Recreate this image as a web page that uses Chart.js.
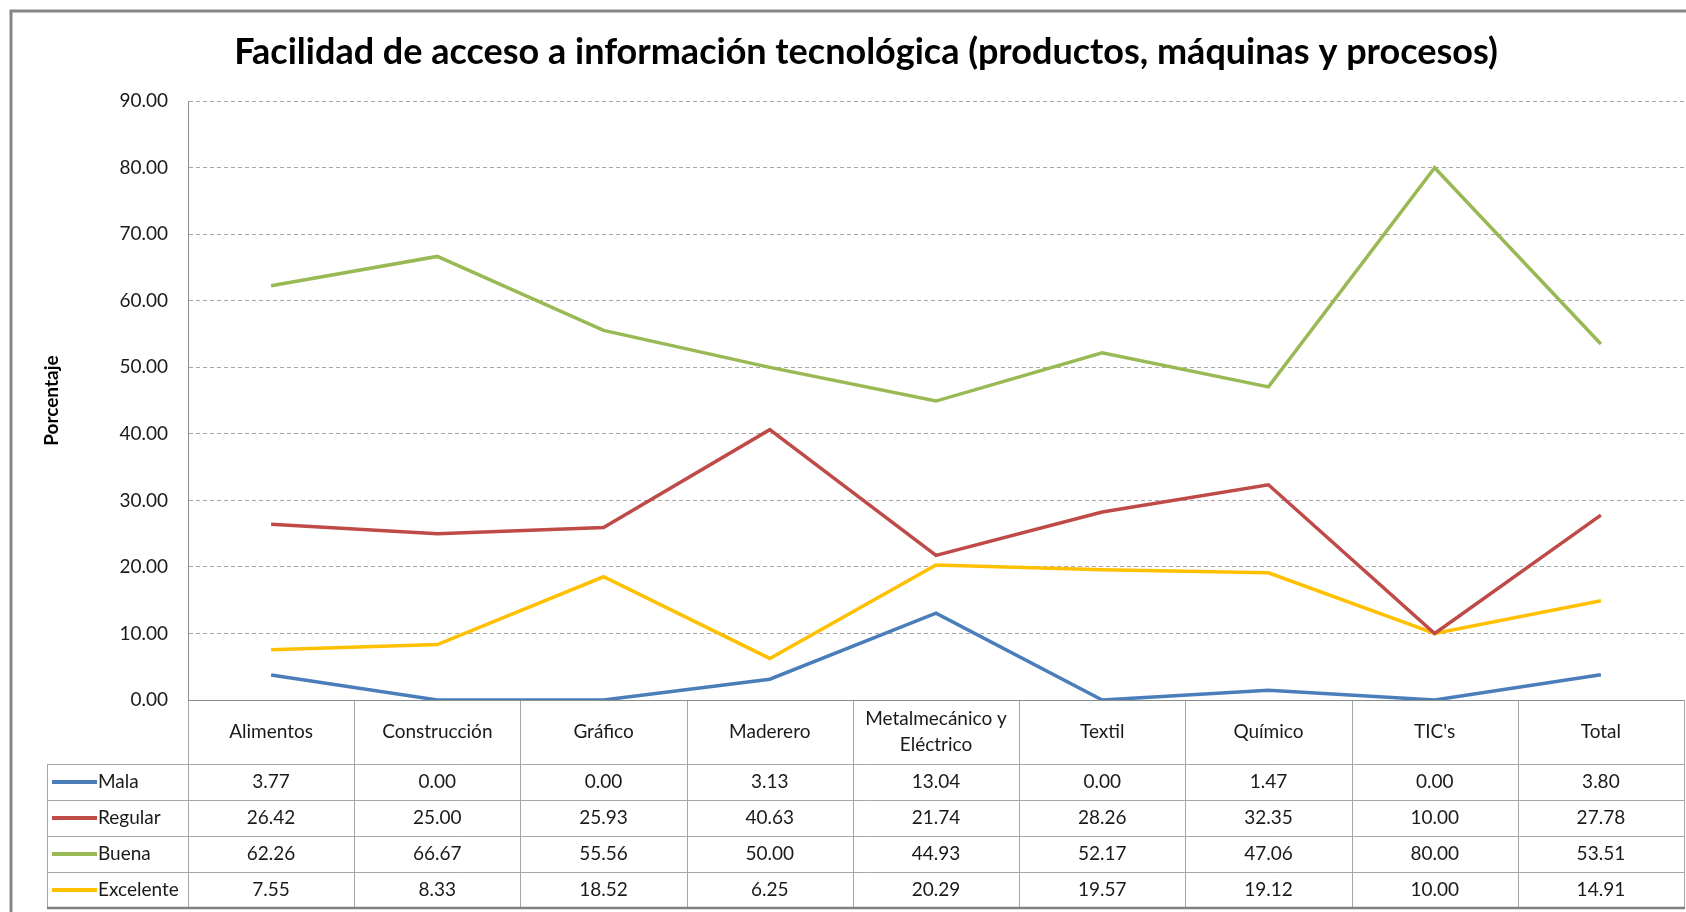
<!DOCTYPE html>
<html><head><meta charset="utf-8">
<script src="https://cdn.jsdelivr.net/npm/chart.js@4.4.1/dist/chart.umd.min.js"></script>
<style>html,body{margin:0;padding:0;background:#fff;overflow:hidden}#wrap{width:1686px;height:912px;position:relative}</style>
</head><body><div id="wrap"><canvas id="c" width="1686" height="912"></canvas></div>
<script>
const categories = ['Alimentos','Construcción','Gráfico','Maderero',['Metalmecánico y','Eléctrico'],'Textil','Químico',"TIC's",'Total'];
const mala = [3.77,0.00,0.00,3.13,13.04,0.00,1.47,0.00,3.80];
const regular = [26.42,25.00,25.93,40.63,21.74,28.26,32.35,10.00,27.78];
const buena = [62.26,66.67,55.56,50.00,44.93,52.17,47.06,80.00,53.51];
const excelente = [7.55,8.33,18.52,6.25,20.29,19.57,19.12,10.00,14.91];
const seriesNames = ['Mala','Regular','Buena','Excelente'];
const seriesColors = ['#4a7ebb','#be4b48','#98b954','#ffc000'];
const yMin = 0, yMax = 90, yStep = 10;
const titleText = 'Facilidad de acceso a información tecnológica (productos, máquinas y procesos)';
const yTitle = 'Porcentaje';

const FONT = 'Lato';
const titleShift = {
  id: 'titleShift',
  afterLayout(chart) { if (chart.titleBlock) { chart.titleBlock.left += 48; } }
};
const tablePlugin = {
  id: 'dataTable',
  beforeDatasetsDraw(chart) {
    const {ctx, chartArea: {left, right, bottom}, scales: {x}} = chart;
    const step = x.getPixelForValue(1) - x.getPixelForValue(0);
    const n = chart.data.labels.length;
    const headerH = 64, rowH = 36;
    const legendLeft = 47;
    const rowsTop = bottom + headerH;
    const tableBottom = rowsTop + rowH * chart.data.datasets.length;
    ctx.save();
    ctx.strokeStyle = '#a6a6a6';
    ctx.lineWidth = 1;
    for (let i = 0; i <= n; i++) {
      const xp = Math.round(x.getPixelForValue(0) - step / 2 + i * step) + 0.5;
      ctx.beginPath(); ctx.moveTo(xp, bottom); ctx.lineTo(xp, tableBottom); ctx.stroke();
    }
    ctx.beginPath(); ctx.moveTo(legendLeft + 0.5, rowsTop); ctx.lineTo(legendLeft + 0.5, tableBottom); ctx.stroke();
    for (let r = 0; r < chart.data.datasets.length; r++) {
      const yp = Math.round(rowsTop + r * rowH) + 0.5;
      ctx.beginPath(); ctx.moveTo(legendLeft, yp); ctx.lineTo(right, yp); ctx.stroke();
    }
    ctx.strokeStyle = '#8c8c8c';
    ctx.beginPath(); ctx.moveTo(left, bottom + 0.5); ctx.lineTo(right, bottom + 0.5); ctx.stroke();
    ctx.strokeStyle = '#7f7f7f'; ctx.lineWidth = 2.5;
    ctx.beginPath(); ctx.moveTo(legendLeft, tableBottom); ctx.lineTo(right + 1, tableBottom); ctx.stroke();
    ctx.fillStyle = '#1a1a1a';
    ctx.font = '19px ' + FONT;
    ctx.textAlign = 'center'; ctx.textBaseline = 'middle';
    chart.data.labels.forEach((lab, i) => {
      const cx = x.getPixelForValue(i);
      const lines = Array.isArray(lab) ? lab : [lab];
      const lh = 26;
      const y0 = bottom + headerH / 2 - (lines.length - 1) * lh / 2;
      lines.forEach((l, k) => ctx.fillText(l, cx, y0 + k * lh));
    });
    chart.data.datasets.forEach((ds, r) => {
      const cy = rowsTop + r * rowH + rowH / 2;
      ds.data.forEach((v, i) => {
        ctx.textAlign = 'center';
        ctx.fillText(v.toFixed(2), x.getPixelForValue(i), cy);
      });
      ctx.strokeStyle = ds.borderColor; ctx.lineWidth = 4;
      ctx.beginPath(); ctx.moveTo(52, cy); ctx.lineTo(97, cy); ctx.stroke();
      ctx.textAlign = 'left';
      ctx.fillText(ds.label, 98, cy);
    });
    ctx.strokeStyle = '#868686'; ctx.lineWidth = 3;
    ctx.beginPath(); ctx.moveTo(11, 913); ctx.lineTo(11, 11); ctx.lineTo(1690, 11); ctx.stroke();
    ctx.restore();
  }
};

const seriesData = [mala, regular, buena, excelente];
new Chart(document.getElementById('c'), {
  type: 'line',
  data: {
    labels: categories,
    datasets: seriesNames.map((name, i) => ({
      label: name, data: seriesData[i], borderColor: seriesColors[i], backgroundColor: seriesColors[i],
      borderWidth: 3.5, pointRadius: 0, tension: 0, fill: false
    }))
  },
  options: {
    responsive: false, animation: false, devicePixelRatio: 1,
    layout: { padding: { left: 0, right: 2, top: 0, bottom: 212 } },
    plugins: {
      legend: { display: false },
      tooltip: { enabled: false },
      title: { display: true, text: titleText, color: '#000', font: { family: FONT, size: 36, weight: 'bold' }, padding: { top: 31, bottom: 27 } }
    },
    scales: {
      x: { type: 'category', display: false, offset: true },
      y: {
        min: yMin, max: yMax,
        afterFit: (s) => { s.width = 188; },
        ticks: { stepSize: yStep, callback: v => Number(v).toFixed(2), font: { family: FONT, size: 19 }, color: '#1a1a1a', padding: 20 },
        grid: { color: '#a6a6a6', drawTicks: false, lineWidth: 1 },
        border: { display: true, color: '#8c8c8c', width: 1, dash: [4, 3] },
        title: { display: true, text: yTitle, color: '#000', font: { family: FONT, size: 19, weight: 'bold' }, padding: { top: 40, bottom: 0 } }
      }
    }
  },
  plugins: [titleShift, tablePlugin]
});
</script>
</body></html>
